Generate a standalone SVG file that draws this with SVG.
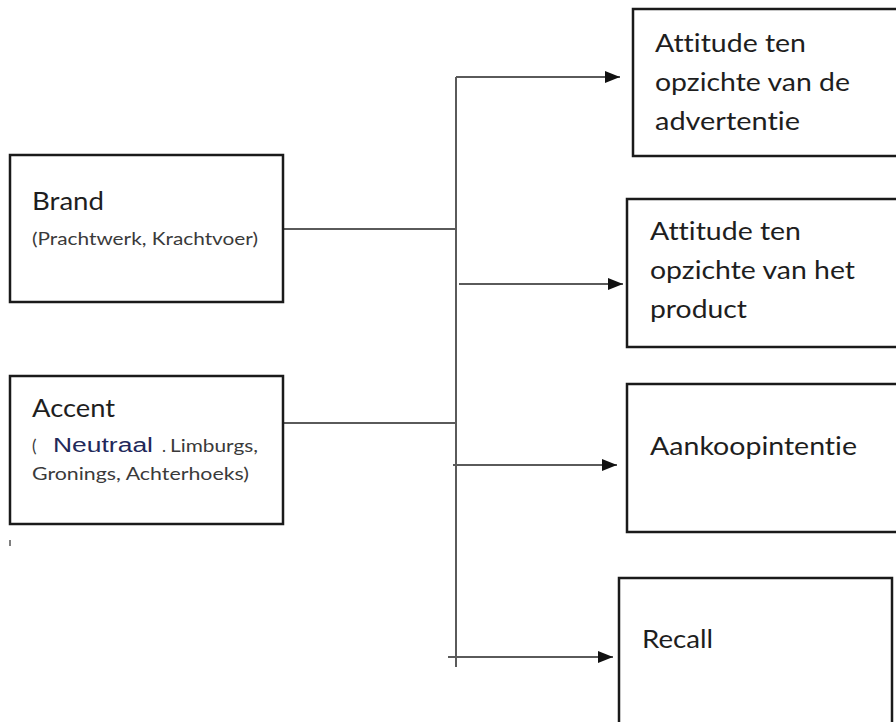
<svg xmlns="http://www.w3.org/2000/svg" width="896" height="722" viewBox="0 0 896 722">
<style>
.box{fill:#fff;stroke:#1a1a1a;stroke-width:2.5}
.t{font-family:Lato,"Open Sans","Liberation Sans",sans-serif;fill:#1e1e1e;font-size:25px;font-variant-ligatures:none;font-feature-settings:"liga" 0,"clig" 0}
.s{font-family:Lato,"Open Sans","Liberation Sans",sans-serif;fill:#3a3a3a;font-size:17px;font-variant-ligatures:none;font-feature-settings:"liga" 0,"clig" 0}
.n{font-family:"Liberation Sans","DejaVu Sans",sans-serif;fill:#22285a;font-size:20px}
.c{stroke:#5a5a5a;stroke-width:2;fill:none}
</style>
<defs>
<marker id="ah" viewBox="0 0 10 10" refX="10" refY="5" markerWidth="15" markerHeight="12" markerUnits="userSpaceOnUse" orient="auto" preserveAspectRatio="none">
<path d="M0,0L10,5L0,10z" fill="#111"/>
</marker>
</defs>
<rect width="896" height="722" fill="#fff"/>
<g id="connectors">
<line class="c" x1="456" y1="77" x2="456" y2="667"/>
<line class="c" x1="283" y1="229" x2="456" y2="229"/>
<line class="c" x1="283" y1="423" x2="456" y2="423"/>
<line class="c" x1="456" y1="77" x2="620" y2="77" marker-end="url(#ah)"/>
<line class="c" x1="459" y1="284" x2="623" y2="284" marker-end="url(#ah)"/>
<line class="c" x1="453" y1="465" x2="617" y2="465" marker-end="url(#ah)"/>
<line class="c" x1="448" y1="657" x2="613" y2="657" marker-end="url(#ah)"/>
</g>
<g id="brand">
<rect class="box" x="10" y="155" width="273" height="147"/>
<text class="t" x="32" y="210" textLength="72" lengthAdjust="spacingAndGlyphs">Brand</text>
<text class="s" x="32" y="245" textLength="226" lengthAdjust="spacingAndGlyphs">(Prachtwerk, Krachtvoer)</text>
</g>
<g id="accent">
<rect class="box" x="10" y="376" width="273" height="148"/>
<text class="t" x="32" y="417" textLength="83" lengthAdjust="spacingAndGlyphs">Accent</text>
<text class="s" x="32" y="452">(</text>
<text class="n" x="53" y="452" textLength="100" lengthAdjust="spacingAndGlyphs">Neutraal</text>
<text class="s" x="162" y="452">.</text>
<text class="s" x="170" y="452" textLength="88" lengthAdjust="spacingAndGlyphs">Limburgs,</text>
<text class="s" x="32" y="480" textLength="217" lengthAdjust="spacingAndGlyphs">Gronings, Achterhoeks)</text>
</g>
<line x1="10" y1="540" x2="10" y2="546" stroke="#555" stroke-width="1.5"/>
<g id="attitude-advertentie">
<rect class="box" x="633" y="9" width="270" height="147"/>
<text class="t" x="655" y="52" textLength="151" lengthAdjust="spacingAndGlyphs">Attitude ten</text>
<text class="t" x="655" y="91" textLength="195" lengthAdjust="spacingAndGlyphs">opzichte van de</text>
<text class="t" x="655" y="130" textLength="145" lengthAdjust="spacingAndGlyphs">advertentie</text>
</g>
<g id="attitude-product">
<rect class="box" x="627" y="199" width="276" height="148"/>
<text class="t" x="650" y="240" textLength="151" lengthAdjust="spacingAndGlyphs">Attitude ten</text>
<text class="t" x="650" y="279" textLength="205" lengthAdjust="spacingAndGlyphs">opzichte van het</text>
<text class="t" x="650" y="318" textLength="97" lengthAdjust="spacingAndGlyphs">product</text>
</g>
<g id="aankoopintentie">
<rect class="box" x="627" y="384" width="276" height="148"/>
<text class="t" x="650" y="455" textLength="207" lengthAdjust="spacingAndGlyphs">Aankoopintentie</text>
</g>
<g id="recall">
<rect class="box" x="619" y="578" width="273" height="160"/>
<text class="t" x="642" y="648" textLength="71" lengthAdjust="spacingAndGlyphs">Recall</text>
</g>
</svg>
